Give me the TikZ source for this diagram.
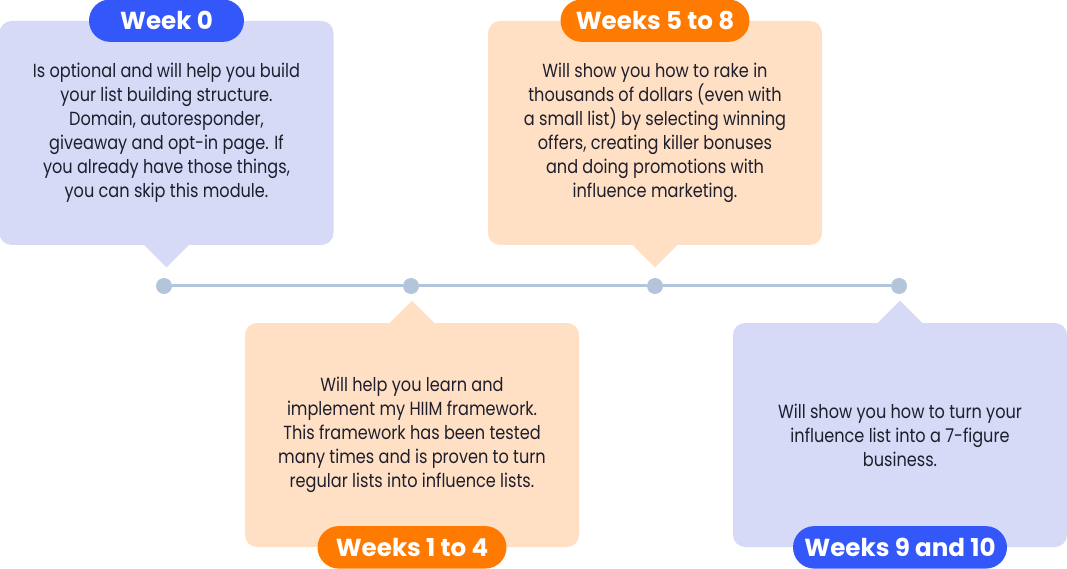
\documentclass[tikz,border=0pt]{standalone}
\usepackage{fontspec}
\setmainfont{Poppins}[FakeStretch=0.85]
\newfontfamily\tagfont{Poppins}
\usetikzlibrary{shapes.misc}

\definecolor{lilac}{HTML}{D6DAF6}
\definecolor{peach}{HTML}{FFE0C4}
\definecolor{royal}{HTML}{3457FA}
\definecolor{tangerine}{HTML}{FF7A00}
\definecolor{rail}{HTML}{B3C5DA}
\definecolor{ink}{HTML}{1E1E2D}

\begin{document}
\begin{tikzpicture}[
		card/.style = {rectangle, rounded corners = 0.24cm, minimum width = 6.68cm, minimum height = 4.48cm, inner sep = 0pt, align = center, text = ink, font = \fontsize{10.8}{13.66}\selectfont},
		tag/.style = {rounded rectangle, minimum height = 0.85cm, inner sep = 0pt, text = white, font = \tagfont\bfseries\fontsize{14}{16}\selectfont},
		dot/.style = {circle, fill = rail, minimum size = 0.32cm, inner sep = 0pt}
	]
				\useasboundingbox (0,0) rectangle (21.34,-11.38);
				% timeline
				\node[dot] (D0) at (3.28,-5.72) {};
				\node[dot] (D1) at (8.22,-5.72) {};
				\node[dot] (D2) at (13.10,-5.72) {};
				\node[dot] (D3) at (17.98,-5.72) {};
				\draw[rail, line width = 0.06cm] (D0) -- (D1) -- (D2) -- (D3);
				% cards above the line
				\node[card, fill = lilac] (W0) at (3.33,-2.66) {Is optional and will help you build\\ your list building structure.\\ Domain, autoresponder,\\ giveaway and opt-in page. If\\ you already have those things,\\ you can skip this module.};
				\fill[lilac] ([xshift = -0.46cm, yshift = 0.02cm] W0.south) -- ([yshift = -0.44cm] W0.south) -- ([xshift = 0.46cm, yshift = 0.02cm] W0.south) -- cycle;
				\node[card, fill = peach] (W5) at (13.10,-2.66) {Will show you how to rake in\\ thousands of dollars (even with\\ a small list) by selecting winning\\ offers, creating killer bonuses\\ and doing promotions with\\ influence marketing.};
				\fill[peach] ([xshift = -0.46cm, yshift = 0.02cm] W5.south) -- ([yshift = -0.44cm] W5.south) -- ([xshift = 0.46cm, yshift = 0.02cm] W5.south) -- cycle;
				% cards below the line
				\node[card, fill = peach] (W1) at (8.24,-8.70) {Will help you learn and\\ implement my HIIM framework.\\ This framework has been tested\\ many times and is proven to turn\\ regular lists into influence lists.};
				\fill[peach] ([xshift = -0.46cm, yshift = -0.02cm] W1.north) -- ([yshift = 0.44cm] W1.north) -- ([xshift = 0.46cm, yshift = -0.02cm] W1.north) -- cycle;
				\node[card, fill = lilac] (W9) at (18.00,-8.70) {Will show you how to turn your\\ influence list into a 7-figure\\ business.};
				\fill[lilac] ([xshift = -0.46cm, yshift = -0.02cm] W9.north) -- ([yshift = 0.44cm] W9.north) -- ([xshift = 0.46cm, yshift = -0.02cm] W9.north) -- cycle;
				% week tags
				\node[tag, fill = royal, minimum width = 3.10cm] (T0) at (W0.north) {Week 0};
				\node[tag, fill = tangerine, minimum width = 3.78cm] (T5) at (W5.north) {Weeks 5 to 8};
				\node[tag, fill = tangerine, minimum width = 3.78cm] (T1) at (W1.south) {Weeks 1 to 4};
				\node[tag, fill = royal, minimum width = 4.28cm] (T9) at (W9.south) {Weeks 9 and 10};
			\end{tikzpicture}
\end{document}
